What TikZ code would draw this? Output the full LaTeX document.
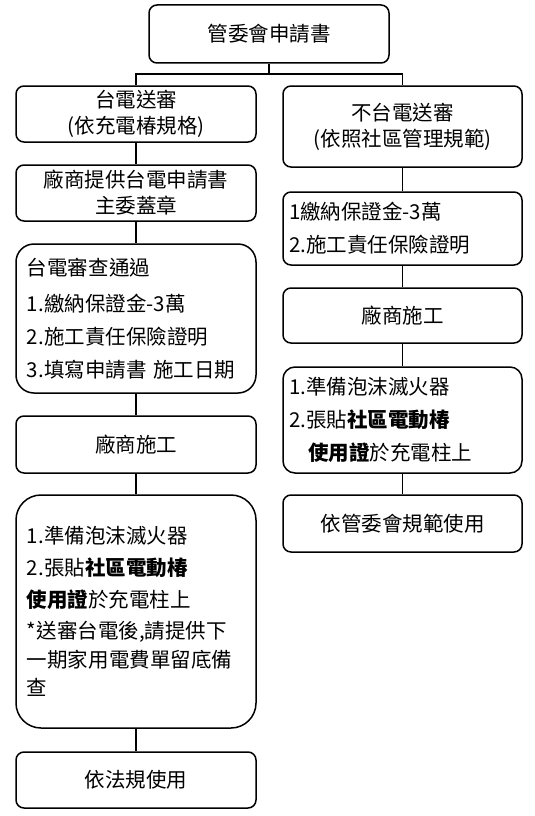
\documentclass[tikz,border=0pt]{standalone}
\usepackage{fontspec}
\setmainfont{Noto Sans CJK TC}
\begin{document}
\begin{tikzpicture}[x=1pt,y=-1pt,
  box/.style={draw=black, line width=1.5pt, rounded corners=8pt, fill=white,
    inner sep=0pt, font=\fontsize{20.5}{26}\selectfont},
  cbox/.style={box, align=center},
  lbox/.style={box, align=left, text width=#1},
  conn/.style={draw=black, line width=1.5pt}]
\useasboundingbox (0,0) rectangle (535,816);
% top
\node[cbox, minimum width=240pt, minimum height=58pt] (top) at (269,34) {管委會申請書};
\coordinate (j) at (269,74);
% left column
\node[cbox, minimum width=240pt, minimum height=56pt] (L1) at (136,114) {台電送審\\(依充電椿規格)};
\node[cbox, minimum width=240pt, minimum height=56pt] (L2) at (136,193) {廠商提供台電申請書\\主委蓋章};
\node[lbox=218pt, rounded corners=18pt, minimum width=240pt, minimum height=149pt,
  font=\fontsize{20.5}{33}\selectfont] (L3) at (136,318.5)
  {台電審查通過\\[3pt]1.繳納保證金-3萬\\2.施工責任保險證明\\3.填寫申請書 施工日期};
\node[cbox, minimum width=240pt, minimum height=57pt] (L4) at (136,444.5) {廠商施工};
\node[lbox=218pt, rounded corners=25pt, minimum width=240pt, minimum height=233pt,
  font=\fontsize{20.5}{28.5}\selectfont] (L5) at (136,611.5)
  {1.準備泡沫滅火器\\[3.5pt]2.張貼\textbf{社區電動椿}\\[3.5pt]\textbf{使用證}於充電柱上\\[2.5pt]*送審台電後,請提供下\\一期家用電費單留底備\\查};
\node[cbox, minimum width=240pt, minimum height=56pt] (L6) at (136,780) {依法規使用};
% right column
\node[cbox, minimum width=239pt, minimum height=81pt] (R1) at (402.5,126.5) {不台電送審\\(依照社區管理規範)};
\node[lbox=227pt, minimum width=239pt, minimum height=73pt,
  font=\fontsize{20.5}{33}\selectfont] (R2) at (402.5,228.5)
  {1繳納保證金-3萬\\2.施工責任保險證明};
\node[cbox, minimum width=239pt, minimum height=55pt] (R3) at (402.5,315.5) {廠商施工};
\node[lbox=227pt, rounded corners=12pt, minimum width=239pt, minimum height=106pt,
  font=\fontsize{20.5}{33}\selectfont] (R4) at (402.5,420)
  {1.準備泡沫滅火器\\2.張貼\textbf{社區電動椿}\\\hspace*{19pt}\textbf{使用證}於充電柱上};
\node[cbox, minimum width=239pt, minimum height=57pt] (R5) at (402.5,523.5) {依管委會規範使用};
% connectors
\draw[conn] (top.south) -- (j);
\draw[conn] (L1.north) |- (j) -| (R1.north);
\draw[conn] (L1.south) -- (L2.north);
\draw[conn] (L2.south) -- (L3.north);
\draw[conn] (L3.south) -- (L4.north);
\draw[conn] (L4.south) -- (L5.north);
\draw[conn] (L5.south) -- (L6.north);
\draw[conn] (R1.south) -- (R2.north);
\draw[conn] (R2.south) -- (R3.north);
\draw[conn] (R3.south) -- (R4.north);
\draw[conn] (R4.south) -- (R5.north);
\end{tikzpicture}
\end{document}
